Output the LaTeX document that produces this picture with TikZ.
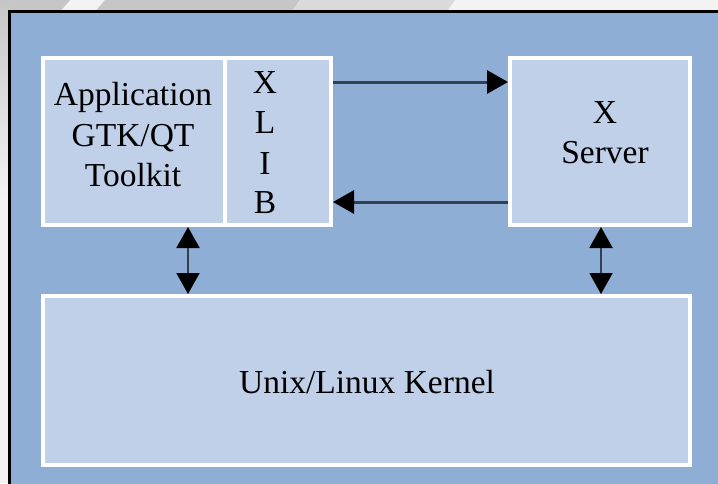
\documentclass[tikz,border=0pt]{standalone}
\usepackage{fontspec}
\setmainfont{Liberation Serif}
\usetikzlibrary{arrows.meta}
\definecolor{panelblue}{HTML}{8FAED5}
\definecolor{boxblue}{HTML}{BFD0E8}
\definecolor{linegray}{HTML}{34404E}
\definecolor{bggray}{HTML}{C6C6C6}
\definecolor{bglight}{HTML}{DADADA}
\definecolor{bgwhite}{HTML}{F3F3F3}
\begin{document}
\begin{tikzpicture}[x=1pt,y=-1pt,
  blockbox/.style={draw=white,line width=4pt,fill=boxblue,inner sep=0pt},
  lbl/.style={anchor=base,inner sep=0pt,font=\fontsize{33.5}{40}\selectfont},
  harrow/.style={draw=linegray,line width=3pt,-{Triangle[length=21pt,width=23pt,black]}},
  varrow/.style={draw=linegray,line width=2pt,{Triangle[length=21pt,width=23pt,black]}-{Triangle[length=21pt,width=23pt,black]}}]
\useasboundingbox (0,0) rectangle (718,483);
% background
\fill[bgwhite] (0,0) rectangle (718,483);
\fill[bggray] (0,0) -- (70,0) -- (58,14) -- (0,14) -- cycle;
\fill[bggray] (105,0) -- (300,0) -- (290,14) -- (93,14) -- cycle;
\fill[bglight] (300,0) -- (455,0) -- (445,14) -- (290,14) -- cycle;
\shade[top color=bggray,bottom color=bgwhite] (0,0) rectangle (10,200);
% panel
\filldraw[fill=panelblue,draw=black,line width=3pt] (9.5,11.5) rectangle (730,495);
% boxes
\node[blockbox,minimum width=181.5pt,minimum height=167pt] (app) at (133.75,141.5) {};
\node[blockbox,minimum width=106.5pt,minimum height=167pt] (xlib) at (277.75,141.5) {};
\node[blockbox,minimum width=180pt,minimum height=167pt] (xserver) at (600,141.5) {};
\node[blockbox,minimum width=647pt,minimum height=169pt] (kernel) at (366.5,380.5) {};
% texts
\node[lbl] (t1) at (133,105) {Application};
\node[lbl] (t2) at (133,146) {GTK/QT};
\node[lbl] (t3) at (133,186) {Toolkit};
\node[lbl] (x1) at (265,93) {X};
\node[lbl] (x2) at (265,133) {L};
\node[lbl] (x3) at (265,174) {I};
\node[lbl] (x4) at (265,213) {B};
\node[lbl] (s1) at (605,123) {X};
\node[lbl] (s2) at (605,163) {Server};
\node[lbl] (k1) at (367,393) {Unix/Linux Kernel};
% connectors
\draw[harrow] (xlib.east |- 0,82) -- (xserver.west |- 0,82);
\draw[harrow] (xserver.west |- 0,202) -- (xlib.east |- 0,202);
\draw[varrow] (188,0 |- app.south) -- (188,0 |- kernel.north);
\draw[varrow] (601,0 |- xserver.south) -- (601,0 |- kernel.north);
\end{tikzpicture}
\end{document}
